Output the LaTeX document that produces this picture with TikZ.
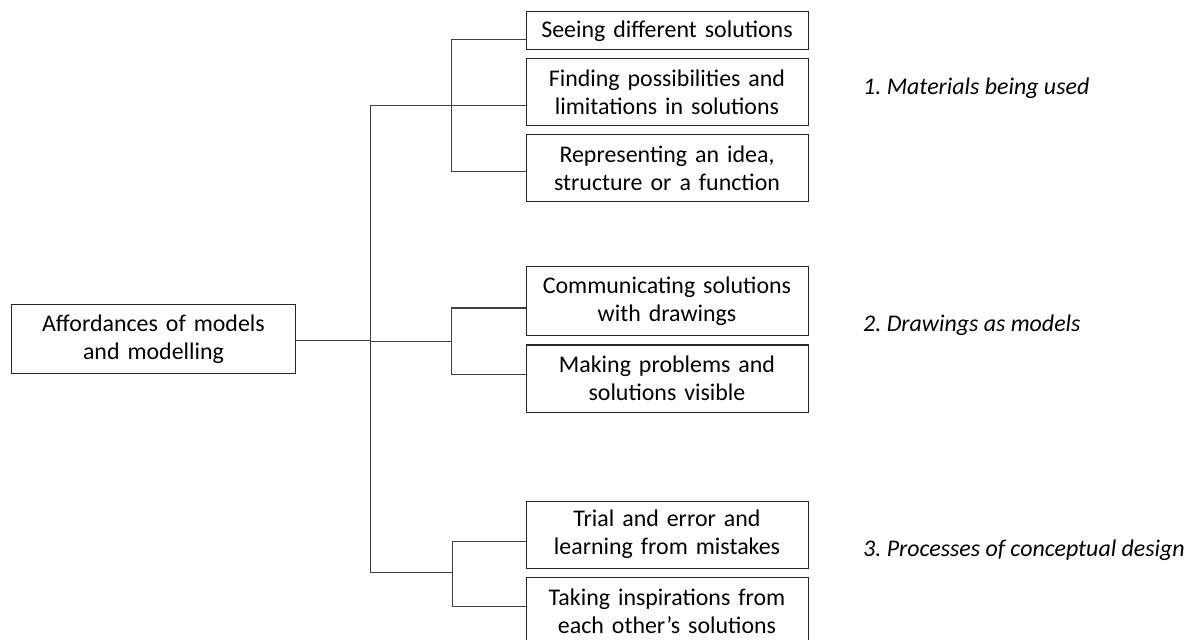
\documentclass[tikz,border=0pt]{standalone}
\usepackage{fontspec}
\setmainfont{Carlito}
\frenchspacing
\begin{document}
\begin{tikzpicture}[x=1bp,y=-1bp,
  box/.style={draw=black!85,line width=1bp,inner sep=0pt,minimum width=282bp,
    text width=278bp,align=center,font=\fontsize{24}{28.5}\selectfont},
  conn/.style={draw=black!75,line width=1bp},
  lab/.style={anchor=base west,inner sep=0pt,font=\fontsize{24}{28.5}\selectfont\itshape}]
\useasboundingbox (0,0) rectangle (1191,640);
% root
\node[box,minimum width=283bp,minimum height=68bp] (root) at (153.5,339) {Affordances of models\\and modelling};
% children
\node[box,minimum height=38bp] (b1) at (667,31) {Seeing different solutions};
\node[box,minimum height=67bp] (b2) at (667,92.5) {Finding possibilities and\\limitations in solutions};
\node[box,minimum height=67bp] (b3) at (667,168.5) {Representing an idea,\\structure or a function};
\node[box,minimum height=68bp] (b4) at (667,301) {Communicating solutions\\with drawings};
\node[box,minimum height=67bp] (b5) at (667,378.5) {Making problems and\\solutions visible};
\node[box,minimum height=67bp] (b6) at (667,534.5) {Trial and error and\\learning from mistakes};
\node[box,minimum height=68bp] (b7) at (667,611) {Taking inspirations from\\each other’s solutions};
% labels
\node[lab] (l1) at (863,95) {1. Materials being used};
\node[lab] (l2) at (863,332) {2. Drawings as models};
\node[lab] (l3) at (863,556) {3. Processes of conceptual design};
% trunk coordinates
\coordinate (t1) at (370,106);
\coordinate (t2) at (370,340);
\coordinate (t3) at (370,572);
\coordinate (k1) at (451,106);
\coordinate (k2) at (451,341);
\coordinate (k3) at (452,572);
\coordinate (a1) at (451,40);
\coordinate (a3) at (451,172);
\coordinate (a4) at (451,308);
\coordinate (a5) at (451,374);
\coordinate (a6) at (452,541);
\coordinate (a7) at (452,606);
% connectors
\draw[conn] (root.east |- t2) -- (t2);
\draw[conn] (t1) -- (t3);
\draw[conn] (t1) -- (k1);
\draw[conn] (t2 |- k2) -- (k2);
\draw[conn] (t3) -- (k3);
\draw[conn] (a1) -- (a3);
\draw[conn] (a4) -- (a5);
\draw[conn] (a6) -- (a7);
\draw[conn] (a1) -- (a1 -| b1.west);
\draw[conn] (k1) -- (k1 -| b2.west);
\draw[conn] (a3) -- (a3 -| b3.west);
\draw[conn] (a4) -- (a4 -| b4.west);
\draw[conn] (a5) -- (a5 -| b5.west);
\draw[conn] (a6) -- (a6 -| b6.west);
\draw[conn] (a7) -- (a7 -| b7.west);
\end{tikzpicture}
\end{document}
